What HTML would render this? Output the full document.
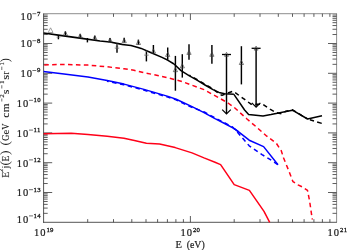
<!DOCTYPE html>
<html><head><meta charset="utf-8"><title>Flux</title><style>
html,body{margin:0;padding:0;background:#fff;}
body{width:350px;height:250px;overflow:hidden;}
body{position:relative;}
svg{display:block;position:absolute;left:0;top:0;}
svg.t{will-change:transform;}
text{font-family:"Liberation Serif",serif;fill:#1a1a1a;}
</style></head><body>
<svg width="350" height="250" viewBox="0 0 350 250">
<rect width="350" height="250" fill="#fff"/>
<line x1="43.60" y1="13.40" x2="43.60" y2="222.70" stroke="#2a2a2a" stroke-width="0.8" />
<line x1="43.20" y1="222.30" x2="336.90" y2="222.30" stroke="#2a2a2a" stroke-width="0.8" />
<line x1="43.60" y1="13.70" x2="336.90" y2="13.70" stroke="#484848" stroke-width="0.62" />
<line x1="336.60" y1="13.70" x2="336.60" y2="222.30" stroke="#484848" stroke-width="0.62" />
<line x1="43.60" y1="34.53" x2="47.70" y2="34.53" stroke="#333" stroke-width="0.8" />
<line x1="336.60" y1="34.53" x2="332.50" y2="34.53" stroke="#333" stroke-width="0.8" />
<line x1="43.60" y1="29.28" x2="47.70" y2="29.28" stroke="#333" stroke-width="0.8" />
<line x1="336.60" y1="29.28" x2="332.50" y2="29.28" stroke="#333" stroke-width="0.8" />
<line x1="43.60" y1="25.56" x2="47.70" y2="25.56" stroke="#333" stroke-width="0.8" />
<line x1="336.60" y1="25.56" x2="332.50" y2="25.56" stroke="#333" stroke-width="0.8" />
<line x1="43.60" y1="22.67" x2="47.70" y2="22.67" stroke="#333" stroke-width="0.8" />
<line x1="336.60" y1="22.67" x2="332.50" y2="22.67" stroke="#333" stroke-width="0.8" />
<line x1="43.60" y1="20.31" x2="47.70" y2="20.31" stroke="#333" stroke-width="0.8" />
<line x1="336.60" y1="20.31" x2="332.50" y2="20.31" stroke="#333" stroke-width="0.8" />
<line x1="43.60" y1="18.32" x2="47.70" y2="18.32" stroke="#333" stroke-width="0.8" />
<line x1="336.60" y1="18.32" x2="332.50" y2="18.32" stroke="#333" stroke-width="0.8" />
<line x1="43.60" y1="16.59" x2="47.70" y2="16.59" stroke="#333" stroke-width="0.8" />
<line x1="336.60" y1="16.59" x2="332.50" y2="16.59" stroke="#333" stroke-width="0.8" />
<line x1="43.60" y1="15.06" x2="47.70" y2="15.06" stroke="#333" stroke-width="0.8" />
<line x1="336.60" y1="15.06" x2="332.50" y2="15.06" stroke="#333" stroke-width="0.8" />
<line x1="43.60" y1="43.50" x2="52.20" y2="43.50" stroke="#333" stroke-width="0.8" />
<line x1="336.60" y1="43.50" x2="328.00" y2="43.50" stroke="#333" stroke-width="0.8" />
<line x1="43.60" y1="64.33" x2="47.70" y2="64.33" stroke="#333" stroke-width="0.8" />
<line x1="336.60" y1="64.33" x2="332.50" y2="64.33" stroke="#333" stroke-width="0.8" />
<line x1="43.60" y1="59.08" x2="47.70" y2="59.08" stroke="#333" stroke-width="0.8" />
<line x1="336.60" y1="59.08" x2="332.50" y2="59.08" stroke="#333" stroke-width="0.8" />
<line x1="43.60" y1="55.36" x2="47.70" y2="55.36" stroke="#333" stroke-width="0.8" />
<line x1="336.60" y1="55.36" x2="332.50" y2="55.36" stroke="#333" stroke-width="0.8" />
<line x1="43.60" y1="52.47" x2="47.70" y2="52.47" stroke="#333" stroke-width="0.8" />
<line x1="336.60" y1="52.47" x2="332.50" y2="52.47" stroke="#333" stroke-width="0.8" />
<line x1="43.60" y1="50.11" x2="47.70" y2="50.11" stroke="#333" stroke-width="0.8" />
<line x1="336.60" y1="50.11" x2="332.50" y2="50.11" stroke="#333" stroke-width="0.8" />
<line x1="43.60" y1="48.12" x2="47.70" y2="48.12" stroke="#333" stroke-width="0.8" />
<line x1="336.60" y1="48.12" x2="332.50" y2="48.12" stroke="#333" stroke-width="0.8" />
<line x1="43.60" y1="46.39" x2="47.70" y2="46.39" stroke="#333" stroke-width="0.8" />
<line x1="336.60" y1="46.39" x2="332.50" y2="46.39" stroke="#333" stroke-width="0.8" />
<line x1="43.60" y1="44.86" x2="47.70" y2="44.86" stroke="#333" stroke-width="0.8" />
<line x1="336.60" y1="44.86" x2="332.50" y2="44.86" stroke="#333" stroke-width="0.8" />
<line x1="43.60" y1="73.30" x2="52.20" y2="73.30" stroke="#333" stroke-width="0.8" />
<line x1="336.60" y1="73.30" x2="328.00" y2="73.30" stroke="#333" stroke-width="0.8" />
<line x1="43.60" y1="94.13" x2="47.70" y2="94.13" stroke="#333" stroke-width="0.8" />
<line x1="336.60" y1="94.13" x2="332.50" y2="94.13" stroke="#333" stroke-width="0.8" />
<line x1="43.60" y1="88.88" x2="47.70" y2="88.88" stroke="#333" stroke-width="0.8" />
<line x1="336.60" y1="88.88" x2="332.50" y2="88.88" stroke="#333" stroke-width="0.8" />
<line x1="43.60" y1="85.16" x2="47.70" y2="85.16" stroke="#333" stroke-width="0.8" />
<line x1="336.60" y1="85.16" x2="332.50" y2="85.16" stroke="#333" stroke-width="0.8" />
<line x1="43.60" y1="82.27" x2="47.70" y2="82.27" stroke="#333" stroke-width="0.8" />
<line x1="336.60" y1="82.27" x2="332.50" y2="82.27" stroke="#333" stroke-width="0.8" />
<line x1="43.60" y1="79.91" x2="47.70" y2="79.91" stroke="#333" stroke-width="0.8" />
<line x1="336.60" y1="79.91" x2="332.50" y2="79.91" stroke="#333" stroke-width="0.8" />
<line x1="43.60" y1="77.92" x2="47.70" y2="77.92" stroke="#333" stroke-width="0.8" />
<line x1="336.60" y1="77.92" x2="332.50" y2="77.92" stroke="#333" stroke-width="0.8" />
<line x1="43.60" y1="76.19" x2="47.70" y2="76.19" stroke="#333" stroke-width="0.8" />
<line x1="336.60" y1="76.19" x2="332.50" y2="76.19" stroke="#333" stroke-width="0.8" />
<line x1="43.60" y1="74.66" x2="47.70" y2="74.66" stroke="#333" stroke-width="0.8" />
<line x1="336.60" y1="74.66" x2="332.50" y2="74.66" stroke="#333" stroke-width="0.8" />
<line x1="43.60" y1="103.10" x2="52.20" y2="103.10" stroke="#333" stroke-width="0.8" />
<line x1="336.60" y1="103.10" x2="328.00" y2="103.10" stroke="#333" stroke-width="0.8" />
<line x1="43.60" y1="123.93" x2="47.70" y2="123.93" stroke="#333" stroke-width="0.8" />
<line x1="336.60" y1="123.93" x2="332.50" y2="123.93" stroke="#333" stroke-width="0.8" />
<line x1="43.60" y1="118.68" x2="47.70" y2="118.68" stroke="#333" stroke-width="0.8" />
<line x1="336.60" y1="118.68" x2="332.50" y2="118.68" stroke="#333" stroke-width="0.8" />
<line x1="43.60" y1="114.96" x2="47.70" y2="114.96" stroke="#333" stroke-width="0.8" />
<line x1="336.60" y1="114.96" x2="332.50" y2="114.96" stroke="#333" stroke-width="0.8" />
<line x1="43.60" y1="112.07" x2="47.70" y2="112.07" stroke="#333" stroke-width="0.8" />
<line x1="336.60" y1="112.07" x2="332.50" y2="112.07" stroke="#333" stroke-width="0.8" />
<line x1="43.60" y1="109.71" x2="47.70" y2="109.71" stroke="#333" stroke-width="0.8" />
<line x1="336.60" y1="109.71" x2="332.50" y2="109.71" stroke="#333" stroke-width="0.8" />
<line x1="43.60" y1="107.72" x2="47.70" y2="107.72" stroke="#333" stroke-width="0.8" />
<line x1="336.60" y1="107.72" x2="332.50" y2="107.72" stroke="#333" stroke-width="0.8" />
<line x1="43.60" y1="105.99" x2="47.70" y2="105.99" stroke="#333" stroke-width="0.8" />
<line x1="336.60" y1="105.99" x2="332.50" y2="105.99" stroke="#333" stroke-width="0.8" />
<line x1="43.60" y1="104.46" x2="47.70" y2="104.46" stroke="#333" stroke-width="0.8" />
<line x1="336.60" y1="104.46" x2="332.50" y2="104.46" stroke="#333" stroke-width="0.8" />
<line x1="43.60" y1="132.90" x2="52.20" y2="132.90" stroke="#333" stroke-width="0.8" />
<line x1="336.60" y1="132.90" x2="328.00" y2="132.90" stroke="#333" stroke-width="0.8" />
<line x1="43.60" y1="153.73" x2="47.70" y2="153.73" stroke="#333" stroke-width="0.8" />
<line x1="336.60" y1="153.73" x2="332.50" y2="153.73" stroke="#333" stroke-width="0.8" />
<line x1="43.60" y1="148.48" x2="47.70" y2="148.48" stroke="#333" stroke-width="0.8" />
<line x1="336.60" y1="148.48" x2="332.50" y2="148.48" stroke="#333" stroke-width="0.8" />
<line x1="43.60" y1="144.76" x2="47.70" y2="144.76" stroke="#333" stroke-width="0.8" />
<line x1="336.60" y1="144.76" x2="332.50" y2="144.76" stroke="#333" stroke-width="0.8" />
<line x1="43.60" y1="141.87" x2="47.70" y2="141.87" stroke="#333" stroke-width="0.8" />
<line x1="336.60" y1="141.87" x2="332.50" y2="141.87" stroke="#333" stroke-width="0.8" />
<line x1="43.60" y1="139.51" x2="47.70" y2="139.51" stroke="#333" stroke-width="0.8" />
<line x1="336.60" y1="139.51" x2="332.50" y2="139.51" stroke="#333" stroke-width="0.8" />
<line x1="43.60" y1="137.52" x2="47.70" y2="137.52" stroke="#333" stroke-width="0.8" />
<line x1="336.60" y1="137.52" x2="332.50" y2="137.52" stroke="#333" stroke-width="0.8" />
<line x1="43.60" y1="135.79" x2="47.70" y2="135.79" stroke="#333" stroke-width="0.8" />
<line x1="336.60" y1="135.79" x2="332.50" y2="135.79" stroke="#333" stroke-width="0.8" />
<line x1="43.60" y1="134.26" x2="47.70" y2="134.26" stroke="#333" stroke-width="0.8" />
<line x1="336.60" y1="134.26" x2="332.50" y2="134.26" stroke="#333" stroke-width="0.8" />
<line x1="43.60" y1="162.70" x2="52.20" y2="162.70" stroke="#333" stroke-width="0.8" />
<line x1="336.60" y1="162.70" x2="328.00" y2="162.70" stroke="#333" stroke-width="0.8" />
<line x1="43.60" y1="183.53" x2="47.70" y2="183.53" stroke="#333" stroke-width="0.8" />
<line x1="336.60" y1="183.53" x2="332.50" y2="183.53" stroke="#333" stroke-width="0.8" />
<line x1="43.60" y1="178.28" x2="47.70" y2="178.28" stroke="#333" stroke-width="0.8" />
<line x1="336.60" y1="178.28" x2="332.50" y2="178.28" stroke="#333" stroke-width="0.8" />
<line x1="43.60" y1="174.56" x2="47.70" y2="174.56" stroke="#333" stroke-width="0.8" />
<line x1="336.60" y1="174.56" x2="332.50" y2="174.56" stroke="#333" stroke-width="0.8" />
<line x1="43.60" y1="171.67" x2="47.70" y2="171.67" stroke="#333" stroke-width="0.8" />
<line x1="336.60" y1="171.67" x2="332.50" y2="171.67" stroke="#333" stroke-width="0.8" />
<line x1="43.60" y1="169.31" x2="47.70" y2="169.31" stroke="#333" stroke-width="0.8" />
<line x1="336.60" y1="169.31" x2="332.50" y2="169.31" stroke="#333" stroke-width="0.8" />
<line x1="43.60" y1="167.32" x2="47.70" y2="167.32" stroke="#333" stroke-width="0.8" />
<line x1="336.60" y1="167.32" x2="332.50" y2="167.32" stroke="#333" stroke-width="0.8" />
<line x1="43.60" y1="165.59" x2="47.70" y2="165.59" stroke="#333" stroke-width="0.8" />
<line x1="336.60" y1="165.59" x2="332.50" y2="165.59" stroke="#333" stroke-width="0.8" />
<line x1="43.60" y1="164.06" x2="47.70" y2="164.06" stroke="#333" stroke-width="0.8" />
<line x1="336.60" y1="164.06" x2="332.50" y2="164.06" stroke="#333" stroke-width="0.8" />
<line x1="43.60" y1="192.50" x2="52.20" y2="192.50" stroke="#333" stroke-width="0.8" />
<line x1="336.60" y1="192.50" x2="328.00" y2="192.50" stroke="#333" stroke-width="0.8" />
<line x1="43.60" y1="213.33" x2="47.70" y2="213.33" stroke="#333" stroke-width="0.8" />
<line x1="336.60" y1="213.33" x2="332.50" y2="213.33" stroke="#333" stroke-width="0.8" />
<line x1="43.60" y1="208.08" x2="47.70" y2="208.08" stroke="#333" stroke-width="0.8" />
<line x1="336.60" y1="208.08" x2="332.50" y2="208.08" stroke="#333" stroke-width="0.8" />
<line x1="43.60" y1="204.36" x2="47.70" y2="204.36" stroke="#333" stroke-width="0.8" />
<line x1="336.60" y1="204.36" x2="332.50" y2="204.36" stroke="#333" stroke-width="0.8" />
<line x1="43.60" y1="201.47" x2="47.70" y2="201.47" stroke="#333" stroke-width="0.8" />
<line x1="336.60" y1="201.47" x2="332.50" y2="201.47" stroke="#333" stroke-width="0.8" />
<line x1="43.60" y1="199.11" x2="47.70" y2="199.11" stroke="#333" stroke-width="0.8" />
<line x1="336.60" y1="199.11" x2="332.50" y2="199.11" stroke="#333" stroke-width="0.8" />
<line x1="43.60" y1="197.12" x2="47.70" y2="197.12" stroke="#333" stroke-width="0.8" />
<line x1="336.60" y1="197.12" x2="332.50" y2="197.12" stroke="#333" stroke-width="0.8" />
<line x1="43.60" y1="195.39" x2="47.70" y2="195.39" stroke="#333" stroke-width="0.8" />
<line x1="336.60" y1="195.39" x2="332.50" y2="195.39" stroke="#333" stroke-width="0.8" />
<line x1="43.60" y1="193.86" x2="47.70" y2="193.86" stroke="#333" stroke-width="0.8" />
<line x1="336.60" y1="193.86" x2="332.50" y2="193.86" stroke="#333" stroke-width="0.8" />
<line x1="87.70" y1="222.30" x2="87.70" y2="219.15" stroke="#333" stroke-width="0.8" />
<line x1="87.70" y1="13.70" x2="87.70" y2="16.85" stroke="#333" stroke-width="0.8" />
<line x1="113.50" y1="222.30" x2="113.50" y2="219.15" stroke="#333" stroke-width="0.8" />
<line x1="113.50" y1="13.70" x2="113.50" y2="16.85" stroke="#333" stroke-width="0.8" />
<line x1="131.80" y1="222.30" x2="131.80" y2="219.15" stroke="#333" stroke-width="0.8" />
<line x1="131.80" y1="13.70" x2="131.80" y2="16.85" stroke="#333" stroke-width="0.8" />
<line x1="146.00" y1="222.30" x2="146.00" y2="219.15" stroke="#333" stroke-width="0.8" />
<line x1="146.00" y1="13.70" x2="146.00" y2="16.85" stroke="#333" stroke-width="0.8" />
<line x1="157.60" y1="222.30" x2="157.60" y2="219.15" stroke="#333" stroke-width="0.8" />
<line x1="157.60" y1="13.70" x2="157.60" y2="16.85" stroke="#333" stroke-width="0.8" />
<line x1="167.41" y1="222.30" x2="167.41" y2="219.15" stroke="#333" stroke-width="0.8" />
<line x1="167.41" y1="13.70" x2="167.41" y2="16.85" stroke="#333" stroke-width="0.8" />
<line x1="175.90" y1="222.30" x2="175.90" y2="219.15" stroke="#333" stroke-width="0.8" />
<line x1="175.90" y1="13.70" x2="175.90" y2="16.85" stroke="#333" stroke-width="0.8" />
<line x1="183.40" y1="222.30" x2="183.40" y2="219.15" stroke="#333" stroke-width="0.8" />
<line x1="183.40" y1="13.70" x2="183.40" y2="16.85" stroke="#333" stroke-width="0.8" />
<line x1="190.40" y1="222.30" x2="190.40" y2="216.00" stroke="#333" stroke-width="0.8" />
<line x1="190.40" y1="13.70" x2="190.40" y2="20.00" stroke="#333" stroke-width="0.8" />
<line x1="234.20" y1="222.30" x2="234.20" y2="219.15" stroke="#333" stroke-width="0.8" />
<line x1="234.20" y1="13.70" x2="234.20" y2="16.85" stroke="#333" stroke-width="0.8" />
<line x1="260.00" y1="222.30" x2="260.00" y2="219.15" stroke="#333" stroke-width="0.8" />
<line x1="260.00" y1="13.70" x2="260.00" y2="16.85" stroke="#333" stroke-width="0.8" />
<line x1="278.30" y1="222.30" x2="278.30" y2="219.15" stroke="#333" stroke-width="0.8" />
<line x1="278.30" y1="13.70" x2="278.30" y2="16.85" stroke="#333" stroke-width="0.8" />
<line x1="292.50" y1="222.30" x2="292.50" y2="219.15" stroke="#333" stroke-width="0.8" />
<line x1="292.50" y1="13.70" x2="292.50" y2="16.85" stroke="#333" stroke-width="0.8" />
<line x1="304.10" y1="222.30" x2="304.10" y2="219.15" stroke="#333" stroke-width="0.8" />
<line x1="304.10" y1="13.70" x2="304.10" y2="16.85" stroke="#333" stroke-width="0.8" />
<line x1="313.91" y1="222.30" x2="313.91" y2="219.15" stroke="#333" stroke-width="0.8" />
<line x1="313.91" y1="13.70" x2="313.91" y2="16.85" stroke="#333" stroke-width="0.8" />
<line x1="322.40" y1="222.30" x2="322.40" y2="219.15" stroke="#333" stroke-width="0.8" />
<line x1="322.40" y1="13.70" x2="322.40" y2="16.85" stroke="#333" stroke-width="0.8" />
<line x1="329.90" y1="222.30" x2="329.90" y2="219.15" stroke="#333" stroke-width="0.8" />
<line x1="329.90" y1="13.70" x2="329.90" y2="16.85" stroke="#333" stroke-width="0.8" />
<polyline points="43.6,33.0 60.0,35.4 80.0,38.2 100.0,41.0 110.0,42.0 122.0,44.4" fill="none" stroke="#000" stroke-width="1.75" stroke-linejoin="round"/>
<polyline points="122.0,44.4 131.0,45.6 138.0,47.5 141.2,48.4 150.0,52.2 162.0,57.4 168.0,60.3 174.0,64.0" fill="none" stroke="#000" stroke-width="1.55" stroke-linejoin="round"/>
<polyline points="174.0,64.0 181.0,70.6 189.0,75.6 197.0,80.2 205.0,85.0 213.0,89.6 219.0,92.4 224.6,93.7 233.9,94.3" fill="none" stroke="#000" stroke-width="1.5" stroke-linejoin="round"/>
<polyline points="233.9,94.3 244.6,110.0 248.6,114.5 263.0,115.9 271.0,114.6 292.4,110.2 307.6,119.0 322.0,115.8" fill="none" stroke="#000" stroke-width="1.5" stroke-linejoin="round"/>
<polyline points="189.3,75.1 197.3,79.7 205.3,84.5 213.3,89.1 219.0,93.8 222.0,95.4 226.0,93.6 233.2,91.2 244.6,99.4 251.0,104.2 263.0,104.4 270.0,109.2 276.4,112.7 281.6,113.9 286.0,111.2 292.6,109.8 307.0,118.7" fill="none" stroke="#000" stroke-width="1.5" stroke-linejoin="round" stroke-dasharray="4.5 3.5" stroke-dashoffset="3.04"/>
<polyline points="306.8,118.9 322.6,123.6" fill="none" stroke="#000" stroke-width="1.5" stroke-linejoin="round" stroke-dasharray="0 3.3 4.2 3.3 4.8 20"/>
<polyline points="43.6,64.9 64.0,64.4 88.0,65.1 107.2,66.8 124.0,68.8 134.0,70.3 144.0,72.7 154.4,74.8 168.0,77.8 181.0,81.2 192.0,85.2 204.0,89.6 213.0,94.6 219.8,98.3 228.0,103.0 234.2,107.4 247.0,119.0 255.6,126.3 266.8,136.2 276.4,143.4 281.2,150.6 283.6,158.0 288.8,170.8 293.0,181.7 298.0,184.8 303.0,187.3 307.5,190.4 309.6,201.0 312.3,219.5" fill="none" stroke="#ff0018" stroke-width="1.5" stroke-linejoin="round" stroke-dasharray="4.55 3.374" stroke-dashoffset="7.30"/>
<polyline points="43.6,71.6 64.0,74.0 88.0,77.1 107.2,80.5 124.0,84.1 144.0,89.4 168.0,96.4 176.2,99.2 192.0,106.6 204.0,112.6 215.0,118.7 224.6,123.5 234.2,128.6 238.0,131.4" fill="none" stroke="#0000ff" stroke-width="1.5" stroke-linejoin="round"/>
<polyline points="234.2,128.6 238.0,131.4 249.2,140.2 263.6,146.6 278.0,164.8" fill="none" stroke="#0000ff" stroke-width="1.5" stroke-linejoin="round"/>
<polyline points="107.0,81.2 123.8,84.8 143.8,90.1 167.8,97.1 176.0,99.9 191.8,107.3 204.3,112.0 215.3,118.1 224.9,122.9 232.3,126.8 236.4,131.0 249.2,145.8 262.0,154.6 270.0,159.4 278.0,164.8" fill="none" stroke="#0000ff" stroke-width="1.5" stroke-linejoin="round" stroke-dasharray="4.5 3.5" stroke-dashoffset="2.76"/>
<polyline points="43.6,133.7 71.2,133.2 88.0,134.4 107.2,136.3 124.0,138.2 134.4,140.4 146.4,143.3 159.6,144.0 175.2,147.6 192.0,152.9 204.0,157.9 215.0,162.2 220.6,164.6 234.2,184.6 249.4,190.4 264.0,211.4 269.7,222.3" fill="none" stroke="#ff0018" stroke-width="1.5" stroke-linejoin="round"/>
<polygon points="50.6,27.8 48.2,32.5 53.0,32.5" fill="none" stroke="#666" stroke-width="0.6"/>
<line x1="58.40" y1="35.40" x2="58.40" y2="39.30" stroke="#000" stroke-width="1.45" />
<line x1="65.40" y1="31.40" x2="65.40" y2="35.40" stroke="#000" stroke-width="1.45" />
<polygon points="65.4,31.3 63.3,35.5 67.5,35.5" fill="none" stroke="#3a3a3a" stroke-width="0.65"/>
<line x1="80.20" y1="34.20" x2="80.20" y2="37.40" stroke="#000" stroke-width="1.45" />
<polygon points="80.2,33.7 78.1,37.9 82.3,37.9" fill="none" stroke="#3a3a3a" stroke-width="0.65"/>
<line x1="87.40" y1="38.00" x2="87.40" y2="42.40" stroke="#000" stroke-width="1.45" />
<line x1="94.80" y1="35.80" x2="94.80" y2="39.60" stroke="#000" stroke-width="1.45" />
<polygon points="94.8,35.5 92.7,39.7 96.9,39.7" fill="none" stroke="#3a3a3a" stroke-width="0.65"/>
<line x1="110.00" y1="38.00" x2="110.00" y2="41.80" stroke="#000" stroke-width="1.45" />
<polygon points="110.0,37.9 107.9,42.1 112.1,42.1" fill="none" stroke="#3a3a3a" stroke-width="0.65"/>
<line x1="117.00" y1="43.90" x2="117.00" y2="52.80" stroke="#000" stroke-width="1.45" />
<line x1="114.80" y1="48.20" x2="119.20" y2="48.20" stroke="#444" stroke-width="0.6" />
<polygon points="117.0,43.7 114.9,47.9 119.1,47.9" fill="none" stroke="#bbb" stroke-width="0.35"/>
<line x1="124.20" y1="37.80" x2="124.20" y2="42.60" stroke="#000" stroke-width="1.45" />
<polygon points="124.2,38.5 122.1,42.7 126.3,42.7" fill="none" stroke="#3a3a3a" stroke-width="0.65"/>
<line x1="138.40" y1="39.60" x2="138.40" y2="44.60" stroke="#000" stroke-width="1.45" />
<polygon points="138.4,40.3 136.3,44.5 140.5,44.5" fill="none" stroke="#3a3a3a" stroke-width="0.65"/>
<line x1="146.40" y1="50.30" x2="146.40" y2="61.40" stroke="#000" stroke-width="1.45" />
<line x1="144.20" y1="55.20" x2="148.60" y2="55.20" stroke="#444" stroke-width="0.6" />
<polygon points="146.4,50.7 144.3,54.9 148.5,54.9" fill="none" stroke="#bbb" stroke-width="0.35"/>
<line x1="153.40" y1="45.00" x2="153.40" y2="53.40" stroke="#000" stroke-width="1.45" />
<polygon points="153.4,48.9 151.3,53.1 155.5,53.1" fill="none" stroke="#3a3a3a" stroke-width="0.65"/>
<line x1="167.70" y1="47.50" x2="167.70" y2="59.60" stroke="#000" stroke-width="1.45" />
<polygon points="167.7,52.2 165.6,56.4 169.8,56.4" fill="none" stroke="#3a3a3a" stroke-width="0.65"/>
<line x1="175.40" y1="55.90" x2="175.40" y2="90.70" stroke="#000" stroke-width="1.45" />
<polygon points="175.4,67.5 173.3,71.7 177.5,71.7" fill="none" stroke="#3a3a3a" stroke-width="0.65"/>
<line x1="182.30" y1="54.20" x2="182.30" y2="77.60" stroke="#000" stroke-width="1.45" />
<polygon points="182.3,63.7 180.2,67.9 184.4,67.9" fill="none" stroke="#3a3a3a" stroke-width="0.65"/>
<line x1="189.00" y1="44.30" x2="189.00" y2="59.80" stroke="#000" stroke-width="1.45" />
<polygon points="189.0,50.2 186.9,54.4 191.1,54.4" fill="none" stroke="#3a3a3a" stroke-width="0.65"/>
<line x1="211.90" y1="44.90" x2="211.90" y2="63.80" stroke="#000" stroke-width="1.45" />
<polygon points="211.9,52.1 209.8,56.3 214.0,56.3" fill="none" stroke="#3a3a3a" stroke-width="0.65"/>
<line x1="241.40" y1="46.20" x2="241.40" y2="84.40" stroke="#000" stroke-width="1.45" />
<polygon points="241.4,60.3 239.3,64.5 243.5,64.5" fill="none" stroke="#3a3a3a" stroke-width="0.65"/>
<line x1="56.40" y1="37.20" x2="60.40" y2="37.20" stroke="#666" stroke-width="0.5" />
<line x1="226.50" y1="54.50" x2="226.50" y2="113.30" stroke="#000" stroke-width="1.45" />
<line x1="222.00" y1="54.50" x2="231.00" y2="54.50" stroke="#000" stroke-width="1.3" />
<polyline points="222.2,109.6 226.5,113.9 230.8,109.6" fill="none" stroke="#000" stroke-width="1.2"/>
<polygon points="226.5,52.3 224.5,56.3 228.5,56.3" fill="none" stroke="#3a3a3a" stroke-width="0.65"/>
<line x1="256.10" y1="48.30" x2="256.10" y2="106.50" stroke="#000" stroke-width="1.45" />
<line x1="251.60" y1="48.30" x2="260.60" y2="48.30" stroke="#000" stroke-width="1.3" />
<polyline points="251.8,102.8 256.1,107.1 260.4,102.8" fill="none" stroke="#000" stroke-width="1.2"/>
<polygon points="256.1,46.1 254.1,50.1 258.1,50.1" fill="none" stroke="#3a3a3a" stroke-width="0.65"/>
</svg>
<svg class="t" width="350" height="250" viewBox="0 0 350 250">
<text x="20.4" y="20.4" font-size="10.5" letter-spacing="1.0" stroke="#1a1a1a" stroke-width="0.2">10</text>
<line x1="32.4" y1="13.7" x2="36.3" y2="13.7" stroke="#222" stroke-width="0.65"/>
<text x="36.9" y="15.5" font-size="6.8" letter-spacing="0.3" stroke="#1a1a1a" stroke-width="0.3">7</text>
<text x="20.4" y="47.4" font-size="10.5" letter-spacing="1.0" stroke="#1a1a1a" stroke-width="0.2">10</text>
<line x1="32.4" y1="40.7" x2="36.3" y2="40.7" stroke="#222" stroke-width="0.65"/>
<text x="36.9" y="42.5" font-size="6.8" letter-spacing="0.3" stroke="#1a1a1a" stroke-width="0.3">8</text>
<text x="20.4" y="77.2" font-size="10.5" letter-spacing="1.0" stroke="#1a1a1a" stroke-width="0.2">10</text>
<line x1="32.4" y1="70.5" x2="36.3" y2="70.5" stroke="#222" stroke-width="0.65"/>
<text x="36.9" y="72.3" font-size="6.8" letter-spacing="0.3" stroke="#1a1a1a" stroke-width="0.3">9</text>
<text x="16.7" y="107.0" font-size="10.5" letter-spacing="1.0" stroke="#1a1a1a" stroke-width="0.2">10</text>
<line x1="29.0" y1="100.3" x2="33.0" y2="100.3" stroke="#222" stroke-width="0.65"/>
<text x="33.5" y="102.1" font-size="6.8" letter-spacing="0.3" stroke="#1a1a1a" stroke-width="0.3">10</text>
<text x="16.7" y="136.8" font-size="10.5" letter-spacing="1.0" stroke="#1a1a1a" stroke-width="0.2">10</text>
<line x1="29.0" y1="130.1" x2="33.0" y2="130.1" stroke="#222" stroke-width="0.65"/>
<text x="33.5" y="131.9" font-size="6.8" letter-spacing="0.3" stroke="#1a1a1a" stroke-width="0.3">11</text>
<text x="16.7" y="166.6" font-size="10.5" letter-spacing="1.0" stroke="#1a1a1a" stroke-width="0.2">10</text>
<line x1="29.0" y1="159.9" x2="33.0" y2="159.9" stroke="#222" stroke-width="0.65"/>
<text x="33.5" y="161.7" font-size="6.8" letter-spacing="0.3" stroke="#1a1a1a" stroke-width="0.3">12</text>
<text x="16.7" y="196.4" font-size="10.5" letter-spacing="1.0" stroke="#1a1a1a" stroke-width="0.2">10</text>
<line x1="29.0" y1="189.7" x2="33.0" y2="189.7" stroke="#222" stroke-width="0.65"/>
<text x="33.5" y="191.5" font-size="6.8" letter-spacing="0.3" stroke="#1a1a1a" stroke-width="0.3">13</text>
<text x="16.7" y="222.6" font-size="10.5" letter-spacing="1.0" stroke="#1a1a1a" stroke-width="0.2">10</text>
<line x1="29.0" y1="215.9" x2="33.0" y2="215.9" stroke="#222" stroke-width="0.65"/>
<text x="33.5" y="217.7" font-size="6.8" letter-spacing="0.3" stroke="#1a1a1a" stroke-width="0.3">14</text>
<text x="34.0" y="235.7" font-size="10.5" letter-spacing="1.0" stroke="#1a1a1a" stroke-width="0.2">10</text>
<text x="46.4" y="231.8" font-size="6.8" letter-spacing="0.3" stroke="#1a1a1a" stroke-width="0.3">19</text>
<text x="180.5" y="235.7" font-size="10.5" letter-spacing="1.0" stroke="#1a1a1a" stroke-width="0.2">10</text>
<text x="192.9" y="231.8" font-size="6.8" letter-spacing="0.3" stroke="#1a1a1a" stroke-width="0.3">20</text>
<text x="327.6" y="235.7" font-size="10.5" letter-spacing="1.0" stroke="#1a1a1a" stroke-width="0.2">10</text>
<text x="340.0" y="231.8" font-size="6.8" letter-spacing="0.3" stroke="#1a1a1a" stroke-width="0.3">21</text>
<text x="175.4" y="247.5" font-size="10.5" stroke="#1a1a1a" stroke-width="0.2">E</text>
<text x="186.7" y="247.5" font-size="10.5" textLength="18.0" lengthAdjust="spacingAndGlyphs" stroke="#1a1a1a" stroke-width="0.2">(eV)</text>
<text transform="translate(9.0,177.85) rotate(-90)" font-size="10.5" textLength="6.10" lengthAdjust="spacingAndGlyphs" stroke="#1a1a1a" stroke-width="0.1">E</text>
<text transform="translate(3.2,172.10) rotate(-90)" font-size="6.8" textLength="3.10" lengthAdjust="spacingAndGlyphs" stroke="#1a1a1a" stroke-width="0.1">2</text>
<text transform="translate(9.0,168.50) rotate(-90)" font-size="10.5" stroke="#1a1a1a" stroke-width="0">j</text>
<text transform="translate(8.7,165.45) rotate(-90)" font-size="12.2" textLength="4.40" lengthAdjust="spacingAndGlyphs" stroke="#1a1a1a" stroke-width="0">(</text>
<text transform="translate(9.0,161.45) rotate(-90)" font-size="10.5" textLength="5.70" lengthAdjust="spacingAndGlyphs" stroke="#1a1a1a" stroke-width="0.1">E</text>
<text transform="translate(8.7,155.05) rotate(-90)" font-size="12.2" textLength="4.50" lengthAdjust="spacingAndGlyphs" stroke="#1a1a1a" stroke-width="0">)</text>
<text transform="translate(8.7,145.45) rotate(-90)" font-size="12.2" textLength="4.40" lengthAdjust="spacingAndGlyphs" stroke="#1a1a1a" stroke-width="0">(</text>
<text transform="translate(9.0,140.85) rotate(-90)" font-size="10.5" textLength="6.10" lengthAdjust="spacingAndGlyphs" stroke="#1a1a1a" stroke-width="0.1">G</text>
<text transform="translate(9.0,134.45) rotate(-90)" font-size="10.5" textLength="4.70" lengthAdjust="spacingAndGlyphs" stroke="#1a1a1a" stroke-width="0.1">e</text>
<text transform="translate(9.0,129.70) rotate(-90)" font-size="10.5" textLength="6.30" lengthAdjust="spacingAndGlyphs" stroke="#1a1a1a" stroke-width="0.1">V</text>
<text transform="translate(9.0,117.75) rotate(-90)" font-size="10.5" textLength="5.00" lengthAdjust="spacingAndGlyphs" stroke="#1a1a1a" stroke-width="0.1">c</text>
<text transform="translate(9.0,112.30) rotate(-90)" font-size="10.5" textLength="8.90" lengthAdjust="spacingAndGlyphs" stroke="#1a1a1a" stroke-width="0.1">m</text>
<line x1="1.8" y1="101.5" x2="1.8" y2="98.5" stroke="#222" stroke-width="0.65"/>
<text transform="translate(4.0,97.80) rotate(-90)" font-size="6.8" textLength="3.50" lengthAdjust="spacingAndGlyphs" stroke="#1a1a1a" stroke-width="0.1">2</text>
<text transform="translate(9.0,94.35) rotate(-90)" font-size="10.5" textLength="4.70" lengthAdjust="spacingAndGlyphs" stroke="#1a1a1a" stroke-width="0.1">s</text>
<line x1="1.8" y1="88.5" x2="1.8" y2="85.2" stroke="#222" stroke-width="0.65"/>
<text transform="translate(4.0,84.00) rotate(-90)" font-size="6.8" textLength="3.50" lengthAdjust="spacingAndGlyphs" stroke="#1a1a1a" stroke-width="0.1">1</text>
<text transform="translate(9.0,79.85) rotate(-90)" font-size="10.5" textLength="5.00" lengthAdjust="spacingAndGlyphs" stroke="#1a1a1a" stroke-width="0.1">s</text>
<text transform="translate(9.0,74.40) rotate(-90)" font-size="10.5" textLength="3.10" lengthAdjust="spacingAndGlyphs" stroke="#1a1a1a" stroke-width="0.1">r</text>
<line x1="1.8" y1="70.0" x2="1.8" y2="66.6" stroke="#222" stroke-width="0.65"/>
<text transform="translate(4.0,65.40) rotate(-90)" font-size="6.8" textLength="3.30" lengthAdjust="spacingAndGlyphs" stroke="#1a1a1a" stroke-width="0.1">1</text>
<text transform="translate(8.7,62.15) rotate(-90)" font-size="12.2" textLength="4.10" lengthAdjust="spacingAndGlyphs" stroke="#1a1a1a" stroke-width="0">)</text>
</svg>
</body></html>
